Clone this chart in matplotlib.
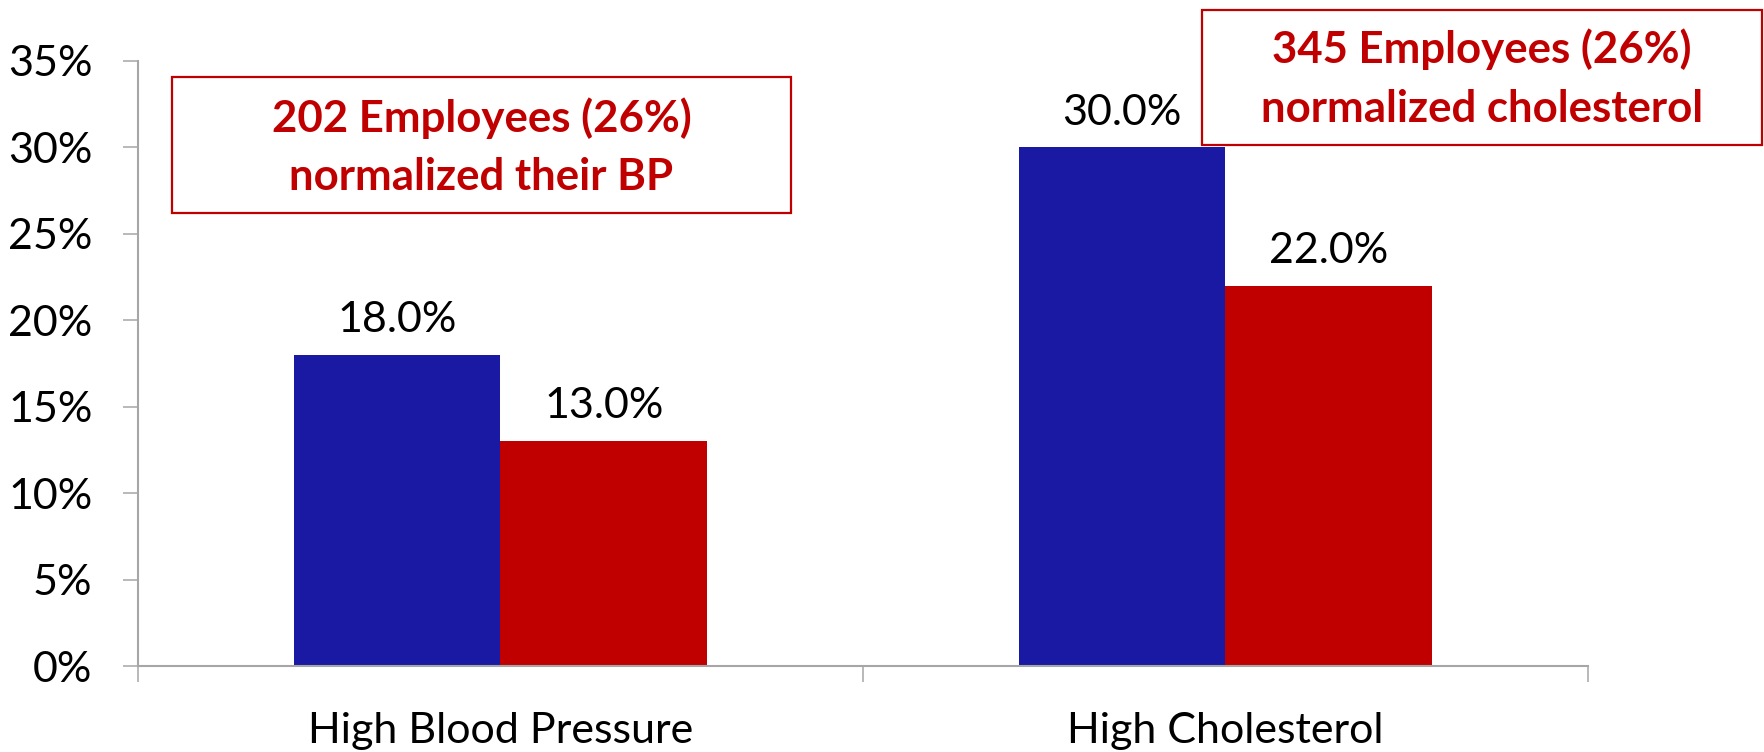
import matplotlib
matplotlib.use("Agg")
import matplotlib.pyplot as plt
from matplotlib.patches import Rectangle
from matplotlib.ticker import FixedLocator, NullFormatter, FixedFormatter
import numpy as np

# ---- data ----
categories = ["High Blood Pressure", "High Cholesterol"]
before_vals = [18.0, 30.0]
after_vals = [13.0, 22.0]
y_ticks = [0, 5, 10, 15, 20, 25, 30, 35]
y_tick_labels = ["0%", "5%", "10%", "15%", "20%", "25%", "30%", "35%"]
box_texts = [["202 Employees (26%)", "normalized their BP"],
             ["345 Employees (26%)", "normalized cholesterol"]]

# ---- style ----
W, H = 1765, 752
DPI = 100
FONT = "Lato"
BLUE = "#1A19A4"
RED = "#C00000"
GREY = "#A6A6A6"
FS = 31
FS_BOX = 31.5

plt.rcParams["font.family"] = [FONT, "DejaVu Sans"]

fig = plt.figure(figsize=(W / DPI, H / DPI), dpi=DPI)
fig.patch.set_facecolor("white")

def px_x(x):
    return x / W

def px_y(y):
    return 1 - y / H

ax_left, ax_right, ax_top, ax_bottom = 138, 1588, 61, 666
ax = fig.add_axes([px_x(ax_left), px_y(ax_bottom),
                   (ax_right - ax_left) / W, (ax_bottom - ax_top) / H])

x = np.arange(len(categories))
bw = 0.285
ax.bar(x - bw / 2, before_vals, width=bw, color=BLUE, edgecolor="none", zorder=2)
ax.bar(x + bw / 2, after_vals, width=bw, color=RED, edgecolor="none", zorder=2)

for xi, v in zip(x - bw / 2, before_vals):
    ax.annotate(f"{v:.1f}%", (xi, v), xytext=(0, 16.5), textcoords="offset points",
                ha="center", va="baseline", fontsize=FS, color="black")
for xi, v in zip(x + bw / 2, after_vals):
    ax.annotate(f"{v:.1f}%", (xi, v), xytext=(0, 16.5), textcoords="offset points",
                ha="center", va="baseline", fontsize=FS, color="black")

ax.set_xlim(-0.5, len(categories) - 0.5)
ax.set_ylim(0, 35)

# y axis
ax.yaxis.set_major_locator(FixedLocator(y_ticks))
ax.yaxis.set_major_formatter(FixedFormatter(y_tick_labels))
ax.tick_params(axis="y", which="major", direction="out", length=10.8, width=1.1,
               color=GREY, pad=22, labelsize=FS, labelcolor="black")

# x axis: boundary ticks (major), category labels (minor)
ax.xaxis.set_major_locator(FixedLocator(np.arange(-0.5, len(categories), 1.0)))
ax.xaxis.set_major_formatter(NullFormatter())
ax.xaxis.set_minor_locator(FixedLocator(x))
ax.xaxis.set_minor_formatter(FixedFormatter(categories))
ax.tick_params(axis="x", which="major", direction="out", length=11.5, width=1.1, color=GREY)
ax.tick_params(axis="x", which="minor", length=0, pad=33, labelsize=FS, labelcolor="black")

for s in ["top", "right"]:
    ax.spines[s].set_visible(False)
for s in ["left", "bottom"]:
    ax.spines[s].set_color(GREY)
    ax.spines[s].set_linewidth(1.5)
    ax.spines[s].set_zorder(3)

# annotation boxes (pixel layout)
boxes = [(172, 77, 791, 213, [132, 190]),
         (1202, 10, 1762, 145, [63, 122])]
for (x0, y0, x1, y1, baselines), lines in zip(boxes, box_texts):
    rect = Rectangle((px_x(x0), px_y(y1)), (x1 - x0) / W, (y1 - y0) / H,
                     transform=fig.transFigure, facecolor="white",
                     edgecolor=RED, linewidth=1.6, zorder=5)
    fig.patches.append(rect)
    cx = px_x((x0 + x1) / 2)
    for line, bl in zip(lines, baselines):
        fig.text(cx, px_y(bl), line, ha="center", va="baseline",
                 fontsize=FS_BOX, fontweight="bold", color=RED, zorder=6)

fig.savefig("out.png", dpi=DPI, facecolor="white")
